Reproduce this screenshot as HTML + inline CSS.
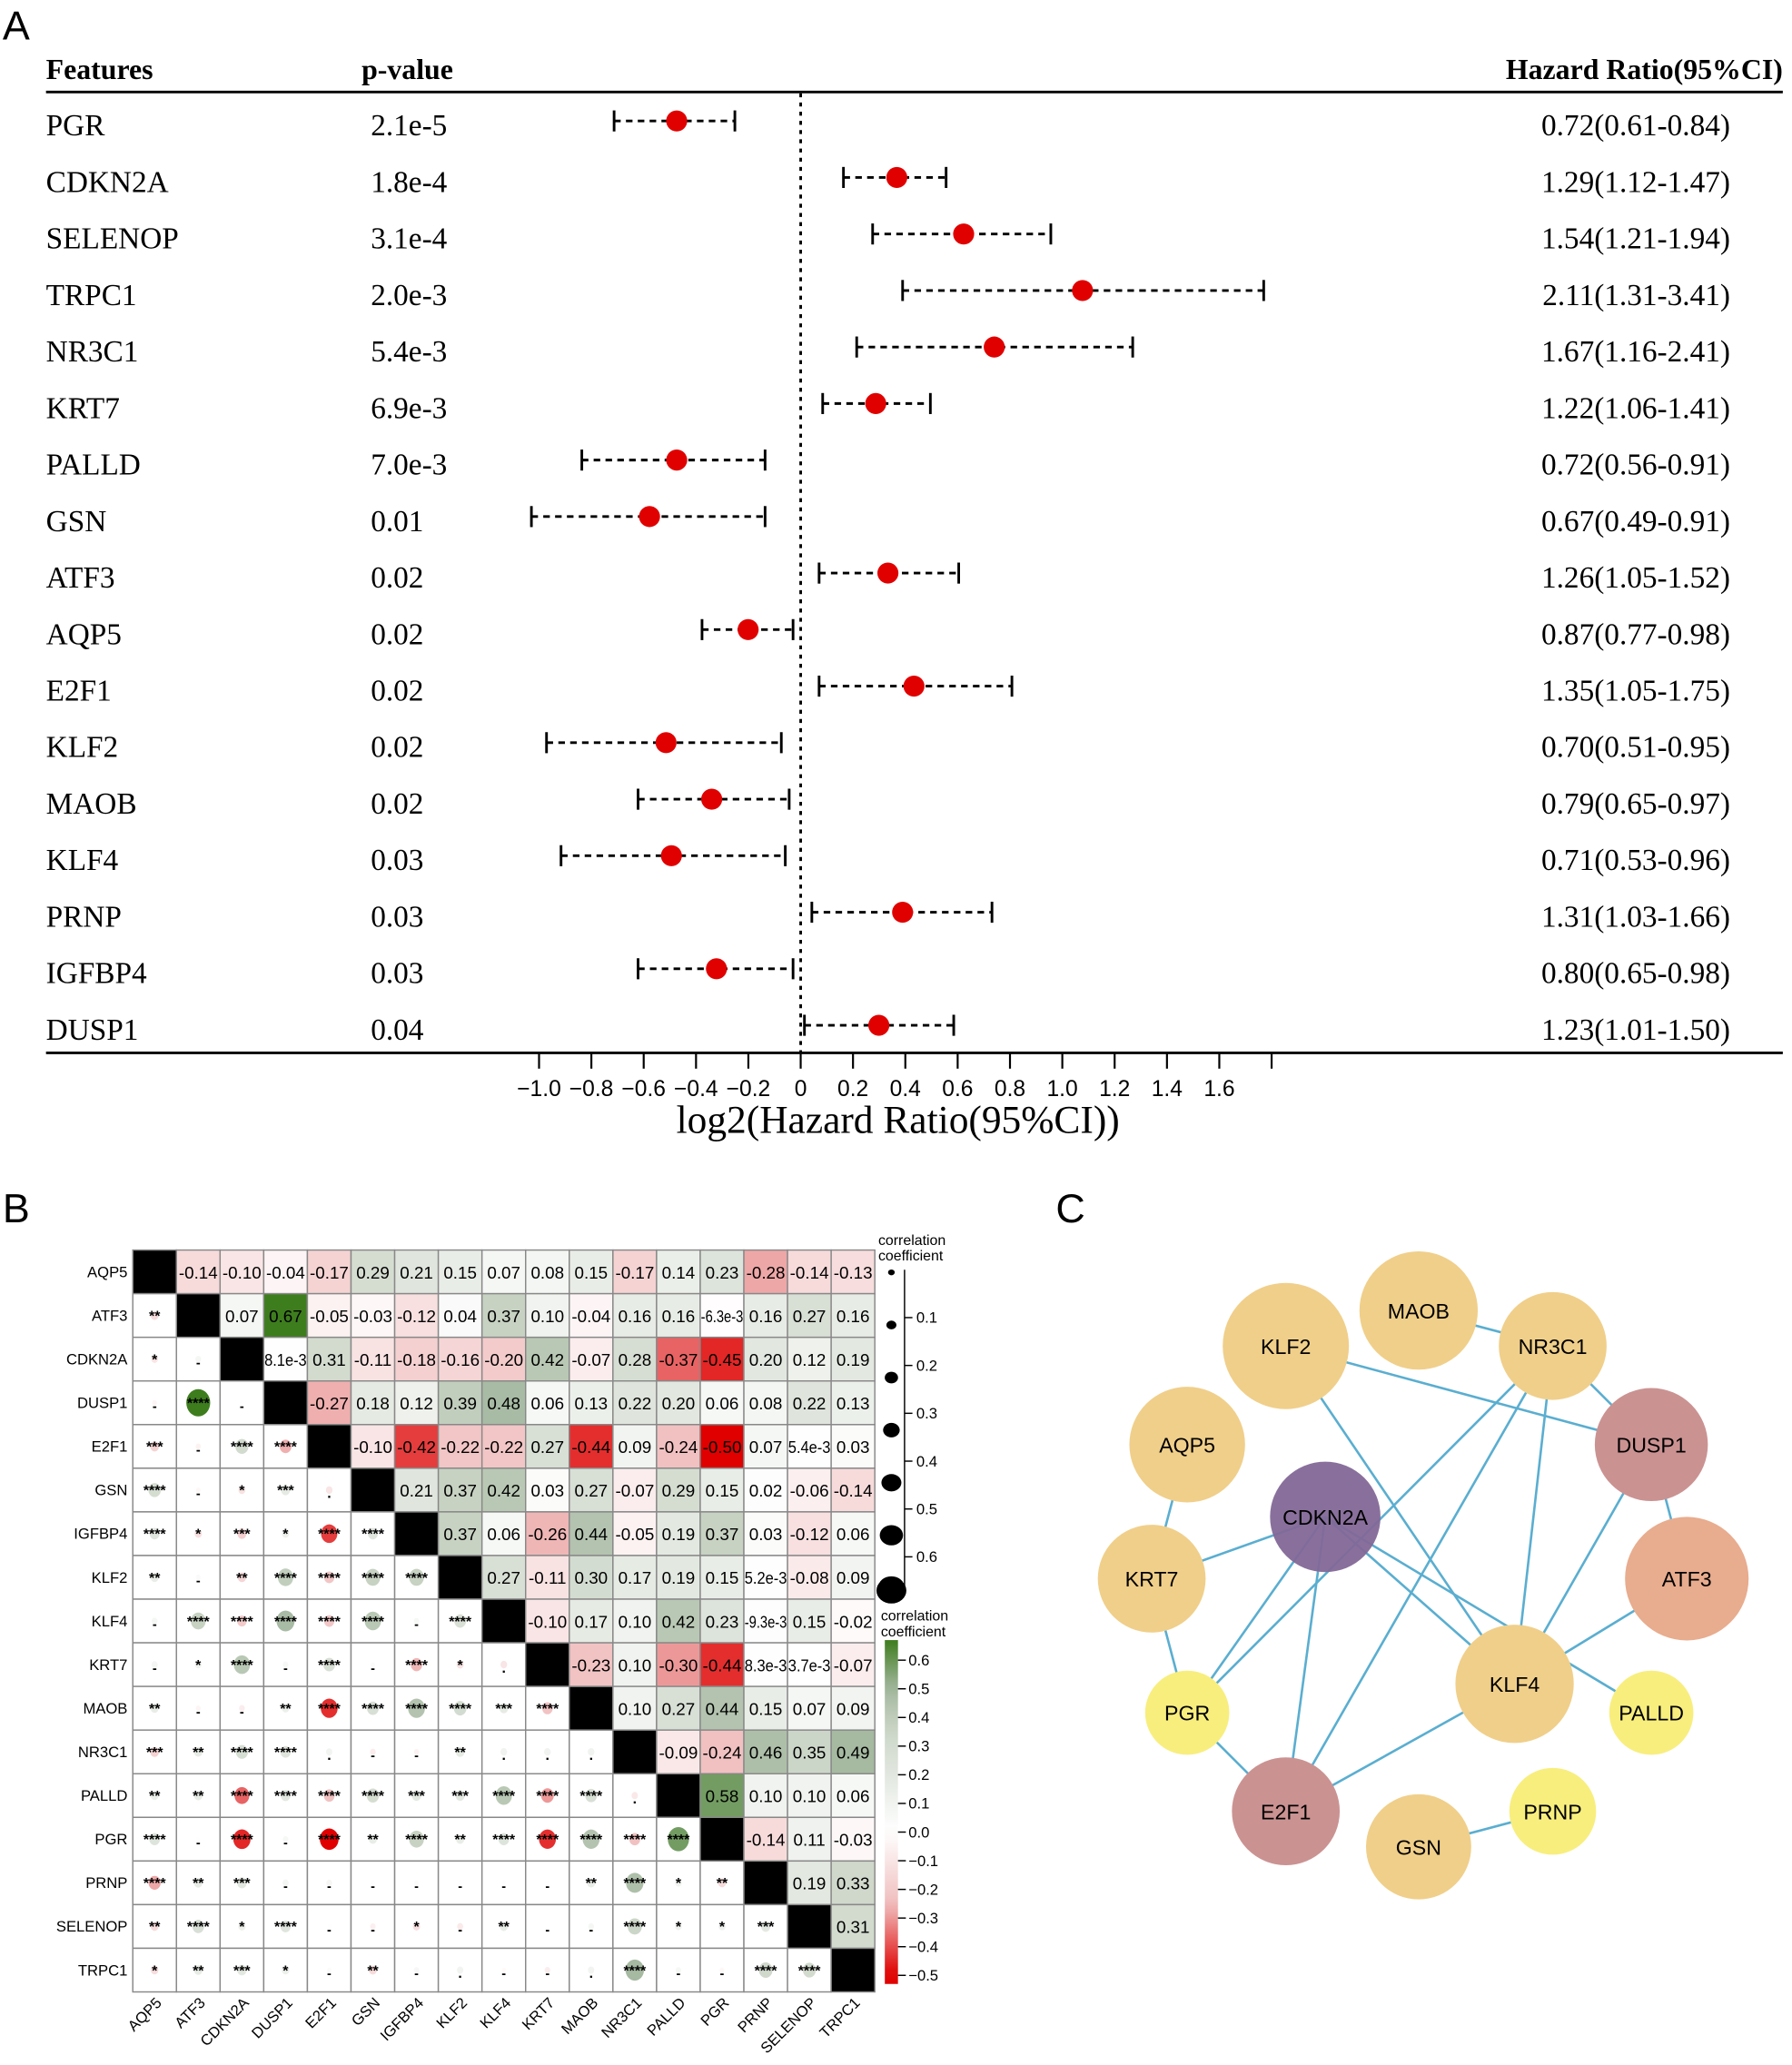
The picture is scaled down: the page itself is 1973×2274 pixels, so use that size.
<!DOCTYPE html>
<html><head><meta charset="utf-8"><style>
html,body{margin:0;padding:0;background:#fff;}
svg{display:block;}
</style></head><body>
<svg id="fig" xmlns="http://www.w3.org/2000/svg" width="1973" height="2274" viewBox="0 0 1363 1571" preserveAspectRatio="none">
<rect width="1363" height="1571" fill="#fff"/>
<text x="2" y="30" font-family="Liberation Sans, sans-serif" font-size="31">A</text>
<text x="2" y="930" font-family="Liberation Sans, sans-serif" font-size="31">B</text>
<text x="803" y="930" font-family="Liberation Sans, sans-serif" font-size="31">C</text>
<g id="forest"></g>
<g id="heat"></g>
<g id="net"></g>
</svg>
<script>
const NS='http://www.w3.org/2000/svg';
function mk(parent,tag,attrs,text){const e=document.createElementNS(NS,tag);for(const k in attrs)e.setAttribute(k,attrs[k]);if(text!==undefined)e.textContent=text;parent.appendChild(e);return e;}

// ---------- Panel A data ----------
const features=['PGR','CDKN2A','SELENOP','TRPC1','NR3C1','KRT7','PALLD','GSN','ATF3','AQP5','E2F1','KLF2','MAOB','KLF4','PRNP','IGFBP4','DUSP1'];
const pvalues=['2.1e-5','1.8e-4','3.1e-4','2.0e-3','5.4e-3','6.9e-3','7.0e-3','0.01','0.02','0.02','0.02','0.02','0.02','0.03','0.03','0.03','0.04'];
const hr=[0.72,1.29,1.54,2.11,1.67,1.22,0.72,0.67,1.26,0.87,1.35,0.70,0.79,0.71,1.31,0.80,1.23];
const hrLow=[0.61,1.12,1.21,1.31,1.16,1.06,0.56,0.49,1.05,0.77,1.05,0.51,0.65,0.53,1.03,0.65,1.01];
const hrHigh=[0.84,1.47,1.94,3.41,2.41,1.41,0.91,0.91,1.52,0.98,1.75,0.95,0.97,0.96,1.66,0.98,1.50];
const xTicks=[-1.0,-0.8,-0.6,-0.4,-0.2,0,0.2,0.4,0.6,0.8,1.0,1.2,1.4,1.6,1.8];
const xTickLabels=['\u22121.0','\u22120.8','\u22120.6','\u22120.4','\u22120.2','0','0.2','0.4','0.6','0.8','1.0','1.2','1.4','1.6',''];

const F=document.getElementById('forest');
const fx=v=>609+v*199;
const rowY=i=>95+i*43;
const serif='Liberation Serif, serif';
let t;
t=mk(F,'text',{x:35,y:60,'font-family':serif,'font-size':22,'font-weight':'bold'},'Features');

t=mk(F,'text',{x:275,y:60,'font-family':serif,'font-size':22,'font-weight':'bold'},'p-value');

t=mk(F,'text',{x:1356,y:60,'font-family':serif,'font-size':22,'font-weight':'bold','text-anchor':'end'},'Hazard Ratio(95%CI)');

t=mk(F,'line',{x1:35,y1:70,x2:1356,y2:70,stroke:'#000','stroke-width':2});

t=mk(F,'line',{x1:35,y1:801,x2:1356,y2:801,stroke:'#000','stroke-width':2});

t=mk(F,'line',{x1:fx(0),y1:71,x2:fx(0),y2:800,stroke:'#000','stroke-width':2,'stroke-dasharray':'3,4'});

features.forEach((f,i)=>{
  const y=rowY(i);
  let e=mk(F,'text',{x:35,y:y+8,'font-family':serif,'font-size':23},f);
  
  e=mk(F,'text',{x:282,y:y+8,'font-family':serif,'font-size':23},pvalues[i]);
  
  e=mk(F,'text',{x:1316,y:y+8,'font-family':serif,'font-size':23,'text-anchor':'end'},hr[i].toFixed(2)+'('+hrLow[i].toFixed(2)+'-'+hrHigh[i].toFixed(2)+')');
  
  const lo=fx(Math.log2(hrLow[i])),hi=fx(Math.log2(hrHigh[i])),c=fx(Math.log2(hr[i]));
  e=mk(F,'line',{x1:lo,y1:y-3,x2:hi,y2:y-3,stroke:'#000','stroke-width':2,'stroke-dasharray':'5,4'});
  
  e=mk(F,'line',{x1:lo,y1:y-11,x2:lo,y2:y+5,stroke:'#000','stroke-width':2});
  
  e=mk(F,'line',{x1:hi,y1:y-11,x2:hi,y2:y+5,stroke:'#000','stroke-width':2});
  
  e=mk(F,'circle',{cx:c,cy:y-3,r:8,fill:'#e00000'});
  
});
xTicks.forEach((v,i)=>{
  let e=mk(F,'line',{x1:fx(v),y1:801,x2:fx(v),y2:813,stroke:'#000','stroke-width':1.5});
  
  e=mk(F,'text',{x:fx(v),y:834,'font-family':'Liberation Sans, sans-serif','font-size':17,'text-anchor':'middle'},xTickLabels[i]);
  
});
t=mk(F,'text',{x:683,y:862,'font-family':serif,'font-size':30,'text-anchor':'middle'},'log2(Hazard Ratio(95%CI))');


// ---------- Panel B data ----------
const genes=['AQP5','ATF3','CDKN2A','DUSP1','E2F1','GSN','IGFBP4','KLF2','KLF4','KRT7','MAOB','NR3C1','PALLD','PGR','PRNP','SELENOP','TRPC1'];
const upperRows=[
['-0.14','-0.10','-0.04','-0.17','0.29','0.21','0.15','0.07','0.08','0.15','-0.17','0.14','0.23','-0.28','-0.14','-0.13'],
['0.07','0.67','-0.05','-0.03','-0.12','0.04','0.37','0.10','-0.04','0.16','0.16','-6.3e-3','0.16','0.27','0.16'],
['8.1e-3','0.31','-0.11','-0.18','-0.16','-0.20','0.42','-0.07','0.28','-0.37','-0.45','0.20','0.12','0.19'],
['-0.27','0.18','0.12','0.39','0.48','0.06','0.13','0.22','0.20','0.06','0.08','0.22','0.13'],
['-0.10','-0.42','-0.22','-0.22','0.27','-0.44','0.09','-0.24','-0.50','0.07','5.4e-3','0.03'],
['0.21','0.37','0.42','0.03','0.27','-0.07','0.29','0.15','0.02','-0.06','-0.14'],
['0.37','0.06','-0.26','0.44','-0.05','0.19','0.37','0.03','-0.12','0.06'],
['0.27','-0.11','0.30','0.17','0.19','0.15','5.2e-3','-0.08','0.09'],
['-0.10','0.17','0.10','0.42','0.23','-9.3e-3','0.15','-0.02'],
['-0.23','0.10','-0.30','-0.44','8.3e-3','3.7e-3','-0.07'],
['0.10','0.27','0.44','0.15','0.07','0.09'],
['-0.09','-0.24','0.46','0.35','0.49'],
['0.58','0.10','0.10','0.06'],
['-0.14','0.11','-0.03'],
['0.19','0.33'],
['0.31'],
[]];
const starRows=[
[],
['**'],
['*','-'],
['-','****','-'],
['***','-','****','****'],
['****','-','*','***','.'],
['****','*','***','*','****','****'],
['**','-','**','****','****','****','****'],
['-','****','****','****','****','****','-','****'],
['-','*','****','-','****','-','****','*','.'],
['**','-','-','**','****','****','****','****','***','****'],
['***','**','****','****','.','-','-','**','.','.','.'],
['**','**','****','****','****','****','***','***','****','****','****','.'],
['****','-','****','-','****','**','****','**','****','****','****','****','****'],
['****','**','***','-','-','-','-','-','-','-','**','****','*','**'],
['**','****','*','****','-','-','*','-','**','-','-','****','*','*','***'],
['*','**','***','*','-','**','-','.','-','-','.','****','-','-','****','****']];
const colorTicks=[0.6,0.5,0.4,0.3,0.2,0.1,0.0,-0.1,-0.2,-0.3,-0.4,-0.5];
const colorTickLabels=['0.6','0.5','0.4','0.3','0.2','0.1','0.0','\u22120.1','\u22120.2','\u22120.3','\u22120.4','\u22120.5'];
const sizeLegend=[0.1,0.2,0.3,0.4,0.5,0.6];

function mix(a,b,t){return a.map((v,i)=>Math.round(v+(b[i]-v)*t));}
function corrColor(r){
  let c;
  if(r>=0){
    const v=Math.min(r,0.67);
    if(v<0.35)c=mix([255,255,255],[204,214,200],v/0.35);
    else if(v<0.5)c=mix([204,214,200],[163,183,158],(v-0.35)/0.15);
    else c=mix([163,183,158],[62,125,30],(v-0.5)/0.17);
  }
  else{const t=Math.min(-r/0.5,1);c=t<0.5?mix([255,255,255],[240,190,190],t/0.5):mix([240,190,190],[224,0,0],(t-0.5)/0.5);}
  return 'rgb('+c.join(',')+')';
}
const n=genes.length;
const corr=[];for(let i=0;i<n;i++){corr.push(new Array(n).fill(1));}
for(let i=0;i<n;i++)for(let k=0;k<upperRows[i].length;k++){const j=i+1+k;const v=parseFloat(upperRows[i][k]);corr[i][j]=v;corr[j][i]=v;}
const H=document.getElementById('heat');
const hx0=101,hy0=951,cs=33.2;
const cellX=j=>hx0+j*cs, cellY=i=>hy0+i*cs;
const sans='Liberation Sans, sans-serif';
for(let i=0;i<n;i++){
  let e=mk(H,'text',{x:97,y:cellY(i)+cs/2+4,'font-family':sans,'font-size':11.5,'text-anchor':'end'},genes[i]);
  
  e=mk(H,'text',{x:0,y:0,'font-family':sans,'font-size':11.5,'text-anchor':'end',transform:'translate('+(cellX(i)+cs/2+6)+','+(hy0+n*cs+9)+') rotate(-45)'},genes[i]);
  
  for(let j=0;j<n;j++){
    const x=cellX(j),y=cellY(i);
    if(i===j){
      e=mk(H,'rect',{x:x,y:y,width:cs,height:cs,fill:'#000',stroke:'#888','stroke-width':1});
      
    }else if(j>i){
      e=mk(H,'rect',{x:x,y:y,width:cs,height:cs,fill:corrColor(corr[i][j]),stroke:'#888','stroke-width':1});
      
      const lbl=upperRows[i][j-i-1];
      e=mk(H,'text',{x:x+cs/2,y:y+cs/2+5,'font-family':sans,'font-size':13,'text-anchor':'middle'},lbl);
      if(lbl.length>5){e.setAttribute('textLength',cs-1);e.setAttribute('lengthAdjust','spacingAndGlyphs');}
      
    }else{
      e=mk(H,'rect',{x:x,y:y,width:cs,height:cs,fill:'#fff',stroke:'#888','stroke-width':1});
      
      const r=corr[i][j],rad=1.5+12.5*Math.abs(r);
      e=mk(H,'ellipse',{cx:x+cs/2,cy:y+cs/2,rx:rad*0.92,ry:rad*1.05,fill:corrColor(r)});
      
      const s=starRows[i][j];
      e=mk(H,'text',{x:x+cs/2,y:y+cs/2+(s==='-'||s==='.'?6:4),'font-family':sans,'font-size':s==='-'?10:11,'text-anchor':'middle','font-weight':'bold'},s);
      
    }
  }
}
// size legend
t=mk(H,'text',{x:668,y:947,'font-family':sans,'font-size':11},'correlation');
t=mk(H,'text',{x:668,y:959,'font-family':sans,'font-size':11},'coefficient');
t=mk(H,'line',{x1:688,y1:966,x2:688,y2:1210,stroke:'#000','stroke-width':1});
const szY=v=>966+v*364;
[0,...sizeLegend,0.67].forEach((v,k)=>{
  const yy=k===0?968:(k===7?1210:968+k*40);
  const rr=2.2+k*1.1;
  let e=mk(H,'ellipse',{cx:678,cy:yy,rx:rr*1.15,ry:rr,fill:'#000'});
  
});
sizeLegend.forEach(v=>{
  const yy=szY(v);
  let e=mk(H,'line',{x1:688,y1:yy,x2:694,y2:yy,stroke:'#000'});
  e=mk(H,'text',{x:697,y:yy+4,'font-family':sans,'font-size':11.5},v.toFixed(1));
});
// color bar
t=mk(H,'text',{x:670,y:1233,'font-family':sans,'font-size':11},'correlation');
t=mk(H,'text',{x:670,y:1245,'font-family':sans,'font-size':11},'coefficient');
const cbY=v=>1263+(0.6-v)*218;
const grad=mk(H,'defs',{});
const lg=mk(grad,'linearGradient',{id:'cb',x1:0,y1:0,x2:0,y2:1});
for(let k=0;k<=24;k++){const v=0.67-k*(1.2/24);mk(lg,'stop',{offset:(k/24),'stop-color':corrColor(v)});}
t=mk(H,'rect',{x:673,y:cbY(0.67),width:10,height:cbY(-0.53)-cbY(0.67),fill:'url(#cb)'});
colorTicks.forEach((v,k)=>{
  const yy=cbY(v);
  let e=mk(H,'line',{x1:683,y1:yy,x2:689,y2:yy,stroke:'#000'});
  e=mk(H,'text',{x:691,y:yy+4,'font-family':sans,'font-size':11.5},colorTickLabels[k]);
});

// ---------- Panel C data ----------
const nodeNames=['KLF2','MAOB','NR3C1','AQP5','DUSP1','CDKN2A','ATF3','KRT7','KLF4','PGR','PALLD','E2F1','GSN','PRNP'];
const nodeX=[978,1079,1181,903,1256,1008,1283,876,1152,903,1256,978,1079,1181];
const nodeY=[1024,997,1024,1099,1099,1154,1201,1201,1281,1303,1303,1378,1405,1378];
const nodeR=[48,45,41,44,43,42,47,41,45,32,32,41,40,33];
const nodeFill=['#f0cf8a','#f0cf8a','#f0cf8a','#f0cf8a','#cb9292','#836897','#e8ac8e','#f0cf8a','#f0cf8a','#f8ee7e','#f8ee7e','#cb9292','#f0cf8a','#f8ee7e'];
const edges=[['MAOB','NR3C1'],['NR3C1','DUSP1'],['KLF2','DUSP1'],['KLF2','KLF4'],['NR3C1','PGR'],['NR3C1','E2F1'],['NR3C1','KLF4'],['AQP5','KRT7'],['KRT7','CDKN2A'],['KRT7','PGR'],['CDKN2A','PGR'],['CDKN2A','E2F1'],['CDKN2A','KLF4'],['CDKN2A','PALLD'],['DUSP1','KLF4'],['DUSP1','ATF3'],['ATF3','KLF4'],['PGR','E2F1'],['E2F1','KLF4'],['GSN','PRNP']];
const N=document.getElementById('net');
const idx=nm=>nodeNames.indexOf(nm);
edges.forEach(([a,b])=>{
  const i=idx(a),j=idx(b);
  const e=mk(N,'line',{x1:nodeX[i],y1:nodeY[i],x2:nodeX[j],y2:nodeY[j],stroke:'#5aaed0','stroke-width':1.8});
  
});
nodeNames.forEach((nm,i)=>{
  let e=mk(N,'circle',{cx:nodeX[i],cy:nodeY[i],r:nodeR[i],fill:nodeFill[i],'fill-opacity':nm==='CDKN2A'?0.95:1});
  
  e=mk(N,'text',{x:nodeX[i],y:nodeY[i]+6,'font-family':sans,'font-size':16,'text-anchor':'middle'},nm);
  
});
</script>
</body></html>
